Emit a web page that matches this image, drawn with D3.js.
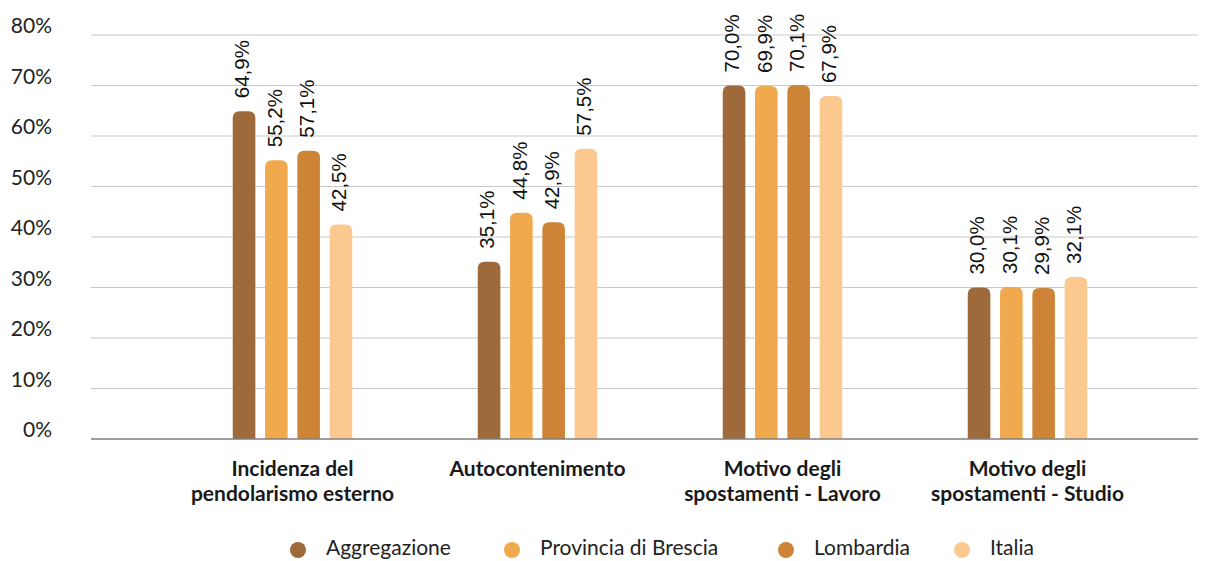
<!DOCTYPE html>
<html>
<head>
<meta charset="utf-8">
<script src="https://d3js.org/d3.v7.min.js"></script>
<style>
  html, body { margin: 0; padding: 0; background: #fff; }
  svg { display: block; }
</style>
</head>
<body>
<svg id="chart" width="1212" height="561"></svg>
<script>
const categories = [
  ["Incidenza del", "pendolarismo esterno"],
  ["Autocontenimento"],
  ["Motivo degli", "spostamenti - Lavoro"],
  ["Motivo degli", "spostamenti - Studio"]
];
const seriesNames = ["Aggregazione", "Provincia di Brescia", "Lombardia", "Italia"];
const seriesColors = ["#9F6A3B", "#F0A94D", "#CE8437", "#FBC990"];
const aggregazione = [64.9, 35.1, 70.0, 30.0];
const provinciaBrescia = [55.2, 44.8, 69.9, 30.1];
const lombardia = [57.1, 42.9, 70.1, 29.9];
const italia = [42.5, 57.5, 67.9, 32.1];
const yTicks = [0, 10, 20, 30, 40, 50, 60, 70, 80];

const seriesValues = [aggregazione, provinciaBrescia, lombardia, italia];

const svg = d3.select("#chart");
const plotLeft = 91, plotRight = 1198;
const y = d3.scaleLinear().domain([0, 80]).range([439, 35]);
const x0 = d3.scaleBand().domain(d3.range(categories.length)).range([170, 1150]).paddingInner(0).paddingOuter(0);
const groupW = 119.5;
const x1 = d3.scaleBand().domain(d3.range(seriesNames.length)).range([0, groupW]).paddingInner(0.3).paddingOuter(0);

// gridlines
svg.append("g").selectAll("line").data(yTicks.filter(d => d > 0)).join("line")
  .attr("x1", plotLeft).attr("x2", plotRight)
  .attr("y1", d => y(d)).attr("y2", d => y(d))
  .attr("stroke", "#c8c8c8").attr("stroke-width", 1.2);

// y axis labels
const yAxis = d3.axisLeft(y).tickValues(yTicks).tickFormat(d => d + "%").tickSize(0);
const yg = svg.append("g").attr("transform", "translate(52,-9)").call(yAxis);
yg.select(".domain").remove();
yg.selectAll("text").attr("font-family", "Lato").attr("font-size", 21).attr("fill", "#222").attr("x", 0);

// bars
const fmt = v => v.toFixed(1).replace(".", ",") + "%";
const r = 7;
function barPath(x, yTop, w, yBase) {
  const rr = Math.min(r, (yBase - yTop));
  return `M${x},${yBase} V${yTop + rr} Q${x},${yTop} ${x + rr},${yTop} H${x + w - rr} Q${x + w},${yTop} ${x + w},${yTop + rr} V${yBase} Z`;
}
const groups = svg.append("g").selectAll("g").data(categories).join("g")
  .attr("transform", (d, i) => `translate(${x0(i) + x0.bandwidth() / 2 - groupW / 2},0)`);
groups.each(function(c, ci) {
  const g = d3.select(this);
  seriesValues.forEach((vals, si) => {
    const v = vals[ci];
    const bx = x1(si), bw = x1.bandwidth();
    g.append("path").attr("d", barPath(bx, y(v), bw, y(0))).attr("fill", seriesColors[si]);
    g.append("text")
      .attr("transform", `translate(${bx + bw / 2},${y(v) - 13}) rotate(-90)`)
      .attr("dominant-baseline", "middle")
      .attr("text-anchor", "start")
      .attr("font-family", "Liberation Sans, Arial, sans-serif")
      .attr("font-size", 20.5)
      .attr("fill", "#111")
      .text(fmt(v));
  });
});

// x axis baseline
svg.append("line").attr("x1", plotLeft).attr("x2", plotRight).attr("y1", y(0)).attr("y2", y(0))
  .attr("stroke", "#7f7f7f").attr("stroke-width", 1.5);

// category labels
const xl = svg.append("g").selectAll("text").data(categories).join("text")
  .attr("x", (d, i) => x0(i) + x0.bandwidth() / 2)
  .attr("y", 476)
  .attr("text-anchor", "middle")
  .attr("font-family", "Lato").attr("font-weight", "bold").attr("font-size", 21).attr("fill", "#1a1a1a");
xl.each(function(lines) {
  d3.select(this).selectAll("tspan").data(lines).join("tspan")
    .attr("x", d3.select(this).attr("x"))
    .attr("dy", (d, i) => i === 0 ? 0 : 25)
    .text(d => d);
});

// legend
const legendX = [298, 512, 786, 962];
const lg = svg.append("g").selectAll("g").data(seriesNames).join("g")
  .attr("transform", (d, i) => `translate(${legendX[i]},550)`);
lg.append("circle").attr("r", 8).attr("fill", (d, i) => seriesColors[i]);
lg.append("text").attr("x", 28).attr("y", 0).attr("dominant-baseline", "middle")
  .attr("font-family", "Lato").attr("font-size", 21).attr("fill", "#222").text(d => d);
</script>
</body>
</html>
